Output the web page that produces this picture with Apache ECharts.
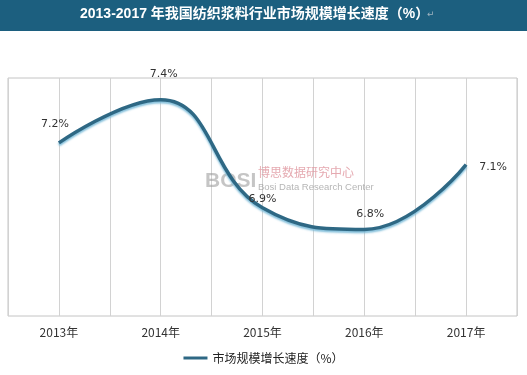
<!DOCTYPE html>
<html><head><meta charset="utf-8">
<script src="https://cdn.jsdelivr.net/npm/echarts@6/dist/echarts.min.js"></script>
<style>html,body{margin:0;padding:0;background:#fff}#c{width:527px;height:375px}</style>
</head><body><div id="c"></div>
<script>
var categories = ['2013年', '2014年', '2015年', '2016年', '2017年'];
var growthRate = [7.2, 7.4, 6.9, 6.8, 7.1];
var seriesName = '市场规模增长速度（%）';
var titleText = '2013-2017 年我国纺织浆料行业市场规模增长速度（%）';
// label offsets [dx, dy] per point (styling only)
var labelOffsets = [[-4, -8], [3, -14], [0, 2], [6, -4], [27, 14]];

var chart = echarts.init(document.getElementById('c'));
var dataItems = growthRate.map(function (v, i) {
  return { value: v, label: { offset: labelOffsets[i] } };
});
chart.setOption({
  animation: false,
  backgroundColor: '#fff',
  graphic: [
    { type: 'rect', left: 0, top: 0, shape: { width: 527, height: 31 }, style: { fill: '#1c5f7f' }, z: 0 },
    { type: 'text', left: 80, top: 7, z: 2,
      style: { text: titleText, fill: '#fff', font: 'bold 14px "Liberation Sans","Noto Sans CJK SC",sans-serif' } },
    { type: 'text', left: 427, top: 10, z: 2,
      style: { text: '↵', fill: '#9fb4c0', font: '9px "DejaVu Sans",sans-serif' } },
    { type: 'text', left: 205, top: 171, z: 1,
      style: { text: 'BOSI', fill: 'rgba(150,150,150,0.55)', font: 'bold 21px "Liberation Sans",sans-serif' } },
    { type: 'text', left: 258, top: 166, z: 1,
      style: { text: '博思数据研究中心', fill: 'rgba(220,140,150,0.75)', font: '12px "Noto Sans CJK SC",sans-serif' } },
    { type: 'text', left: 258, top: 182, z: 1,
      style: { text: 'Bosi Data Research Center', fill: 'rgba(150,150,150,0.7)', font: '9.5px "Liberation Sans",sans-serif' } }
  ],
  grid: { left: 8, right: 10, top: 78, bottom: 59, show: true, borderColor: '#c4c4c4', borderWidth: 1 },
  legend: {
    bottom: 6, left: 'center', itemWidth: 24, itemHeight: 3,
    icon: 'rect',
    textStyle: { color: '#222', fontSize: 12, fontFamily: '"Noto Sans CJK SC",sans-serif' },
    data: [{ name: seriesName, itemStyle: { color: '#2e6884' } }]
  },
  xAxis: [
    { type: 'category', data: categories, boundaryGap: true,
      axisLine: { show: false }, axisTick: { show: false },
      axisLabel: { color: '#333', fontSize: 12, margin: 10, fontFamily: '"Noto Sans CJK SC",sans-serif' },
      splitLine: { show: false } },
    { type: 'value', min: -0.5, max: 4.5, interval: 0.5, position: 'bottom',
      axisLine: { show: false }, axisTick: { show: false }, axisLabel: { show: false },
      splitLine: { show: true, lineStyle: { color: '#d2d2d2', width: 1 } } }
  ],
  yAxis: { type: 'value', min: 6.4, max: 7.5, show: true,
    axisLine: { show: false }, axisTick: { show: false }, axisLabel: { show: false },
    splitLine: { show: false } },
  series: [{
    name: seriesName, type: 'line', xAxisIndex: 0, data: dataItems, smooth: 0.45,
    showSymbol: true, symbol: 'circle', symbolSize: 1,
    itemStyle: { color: 'rgba(46,104,132,0)' },
    lineStyle: { color: '#2e6884', width: 3.5, shadowColor: 'rgba(120,185,215,0.9)', shadowBlur: 2, shadowOffsetY: 2 },
    label: { show: true, position: 'top', formatter: '{c}%', color: '#333', fontSize: 11,
      fontFamily: '"DejaVu Sans",sans-serif' },
    z: 3
  }]
});
</script></body></html>
